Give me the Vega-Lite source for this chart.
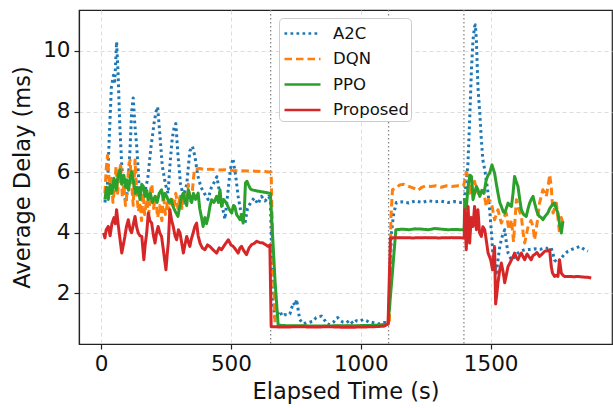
{
  "$schema": "https://vega.github.io/schema/vega-lite/v6.json",
  "width": 533,
  "height": 334,
  "autosize": "none",
  "padding": {"left": 79, "top": 10, "right": 1, "bottom": 64},
  "background": "white",
  "config": {
    "font": "DejaVu Sans",
    "view": {"stroke": "#222", "strokeWidth": 1.2},
    "axis": {
      "domainColor": "#222", "domainWidth": 1.2, "tickColor": "#222", "tickSize": 5, "tickWidth": 1.2,
      "labelFont": "DejaVu Sans", "labelFontSize": 21.5, "labelColor": "#111", "labelPadding": 4,
      "titleFont": "DejaVu Sans", "titleFontSize": 22.5, "titleFontWeight": "normal", "titleColor": "#111",
      "gridColor": "#d9d9d9", "gridDash": [4, 3], "gridWidth": 0.9
    },
    "legend": {
      "orient": "none", "legendX": 200, "legendY": 8, "fillColor": "white", "strokeColor": "#cccccc",
      "cornerRadius": 4, "padding": 2, "labelFont": "DejaVu Sans", "labelFontSize": 16.5, "labelColor": "#111",
      "symbolType": "M-1.5,0L1.5,0", "symbolSize": 576, "symbolStrokeWidth": 2.7, "symbolOffset": 8, "rowPadding": 3.5, "labelOffset": 17, "title": null
    }
  },
  "datasets": {
    "phases": [{"t": 653}, {"t": 1107}, {"t": 1397}],
    "series": [
      {"method":"A2C","time":15,"delay":5.0},{"method":"A2C","time":25,"delay":5.6},{"method":"A2C","time":32,"delay":7.2},{"method":"A2C","time":40,"delay":8.8},{"method":"A2C","time":48,"delay":9.2},{"method":"A2C","time":53,"delay":9.0},{"method":"A2C","time":60,"delay":10.3},{"method":"A2C","time":66,"delay":9.2},{"method":"A2C","time":72,"delay":7.6},{"method":"A2C","time":80,"delay":6.2},{"method":"A2C","time":88,"delay":5.3},{"method":"A2C","time":96,"delay":5.0},{"method":"A2C","time":104,"delay":5.6},{"method":"A2C","time":112,"delay":6.8},{"method":"A2C","time":118,"delay":8.0},{"method":"A2C","time":124,"delay":8.45},{"method":"A2C","time":130,"delay":7.6},{"method":"A2C","time":138,"delay":6.8},{"method":"A2C","time":146,"delay":5.6},{"method":"A2C","time":156,"delay":5.1},{"method":"A2C","time":168,"delay":5.3},{"method":"A2C","time":180,"delay":5.8},{"method":"A2C","time":192,"delay":6.8},{"method":"A2C","time":204,"delay":7.6},{"method":"A2C","time":212,"delay":8.0},{"method":"A2C","time":218,"delay":8.15},{"method":"A2C","time":226,"delay":7.3},{"method":"A2C","time":236,"delay":6.2},{"method":"A2C","time":248,"delay":5.6},{"method":"A2C","time":258,"delay":5.3},{"method":"A2C","time":266,"delay":6.3},{"method":"A2C","time":274,"delay":7.1},{"method":"A2C","time":282,"delay":7.5},{"method":"A2C","time":288,"delay":7.6},{"method":"A2C","time":296,"delay":6.6},{"method":"A2C","time":306,"delay":5.6},{"method":"A2C","time":318,"delay":5.2},{"method":"A2C","time":330,"delay":5.6},{"method":"A2C","time":342,"delay":6.7},{"method":"A2C","time":352,"delay":6.85},{"method":"A2C","time":362,"delay":6.5},{"method":"A2C","time":372,"delay":5.9},{"method":"A2C","time":385,"delay":5.5},{"method":"A2C","time":398,"delay":5.3},{"method":"A2C","time":412,"delay":5.1},{"method":"A2C","time":425,"delay":5.5},{"method":"A2C","time":438,"delay":5.7},{"method":"A2C","time":446,"delay":5.85},{"method":"A2C","time":455,"delay":5.4},{"method":"A2C","time":466,"delay":4.9},{"method":"A2C","time":477,"delay":4.45},{"method":"A2C","time":488,"delay":5.3},{"method":"A2C","time":498,"delay":6.1},{"method":"A2C","time":508,"delay":6.45},{"method":"A2C","time":518,"delay":5.9},{"method":"A2C","time":528,"delay":5.2},{"method":"A2C","time":540,"delay":4.6},{"method":"A2C","time":554,"delay":4.3},{"method":"A2C","time":564,"delay":4.8},{"method":"A2C","time":576,"delay":5.0},{"method":"A2C","time":590,"delay":5.15},{"method":"A2C","time":604,"delay":4.95},{"method":"A2C","time":618,"delay":5.2},{"method":"A2C","time":632,"delay":5.05},{"method":"A2C","time":645,"delay":5.2},{"method":"A2C","time":652,"delay":5.1},{"method":"A2C","time":660,"delay":2.0},{"method":"A2C","time":669,"delay":1.2},{"method":"A2C","time":678,"delay":1.3},{"method":"A2C","time":688,"delay":1.42},{"method":"A2C","time":698,"delay":1.25},{"method":"A2C","time":708,"delay":1.3},{"method":"A2C","time":718,"delay":1.28},{"method":"A2C","time":727,"delay":1.32},{"method":"A2C","time":740,"delay":1.69},{"method":"A2C","time":748,"delay":1.6},{"method":"A2C","time":753,"delay":1.8},{"method":"A2C","time":760,"delay":1.4},{"method":"A2C","time":765,"delay":1.14},{"method":"A2C","time":777,"delay":1.0},{"method":"A2C","time":790,"delay":1.02},{"method":"A2C","time":803,"delay":1.05},{"method":"A2C","time":816,"delay":1.08},{"method":"A2C","time":828,"delay":1.2},{"method":"A2C","time":835,"delay":1.23},{"method":"A2C","time":849,"delay":1.25},{"method":"A2C","time":862,"delay":1.1},{"method":"A2C","time":870,"delay":1.0},{"method":"A2C","time":881,"delay":0.97},{"method":"A2C","time":895,"delay":1.05},{"method":"A2C","time":905,"delay":1.18},{"method":"A2C","time":911,"delay":1.2},{"method":"A2C","time":922,"delay":1.1},{"method":"A2C","time":932,"delay":1.05},{"method":"A2C","time":945,"delay":1.03},{"method":"A2C","time":958,"delay":1.12},{"method":"A2C","time":970,"delay":1.0},{"method":"A2C","time":983,"delay":1.1},{"method":"A2C","time":996,"delay":1.08},{"method":"A2C","time":1009,"delay":1.14},{"method":"A2C","time":1022,"delay":1.1},{"method":"A2C","time":1030,"delay":1.05},{"method":"A2C","time":1041,"delay":1.05},{"method":"A2C","time":1055,"delay":1.02},{"method":"A2C","time":1067,"delay":0.99},{"method":"A2C","time":1080,"delay":1.02},{"method":"A2C","time":1091,"delay":1.04},{"method":"A2C","time":1099,"delay":1.03},{"method":"A2C","time":1106,"delay":0.98},{"method":"A2C","time":1112,"delay":2.5},{"method":"A2C","time":1118,"delay":4.0},{"method":"A2C","time":1126,"delay":4.6},{"method":"A2C","time":1137,"delay":5.0},{"method":"A2C","time":1160,"delay":5.02},{"method":"A2C","time":1185,"delay":4.98},{"method":"A2C","time":1210,"delay":5.05},{"method":"A2C","time":1235,"delay":5.0},{"method":"A2C","time":1260,"delay":5.06},{"method":"A2C","time":1285,"delay":5.02},{"method":"A2C","time":1310,"delay":5.04},{"method":"A2C","time":1335,"delay":5.0},{"method":"A2C","time":1360,"delay":5.03},{"method":"A2C","time":1385,"delay":5.0},{"method":"A2C","time":1398,"delay":5.02},{"method":"A2C","time":1405,"delay":5.6},{"method":"A2C","time":1412,"delay":6.2},{"method":"A2C","time":1419,"delay":7.7},{"method":"A2C","time":1426,"delay":9.4},{"method":"A2C","time":1432,"delay":10.36},{"method":"A2C","time":1438,"delay":10.8},{"method":"A2C","time":1441,"delay":10.86},{"method":"A2C","time":1445,"delay":10.36},{"method":"A2C","time":1451,"delay":8.8},{"method":"A2C","time":1458,"delay":7.95},{"method":"A2C","time":1464,"delay":7.07},{"method":"A2C","time":1470,"delay":6.4},{"method":"A2C","time":1477,"delay":6.08},{"method":"A2C","time":1483,"delay":5.75},{"method":"A2C","time":1490,"delay":5.3},{"method":"A2C","time":1496,"delay":4.76},{"method":"A2C","time":1503,"delay":4.0},{"method":"A2C","time":1509,"delay":3.22},{"method":"A2C","time":1516,"delay":2.9},{"method":"A2C","time":1522,"delay":2.67},{"method":"A2C","time":1528,"delay":3.1},{"method":"A2C","time":1535,"delay":3.55},{"method":"A2C","time":1545,"delay":3.9},{"method":"A2C","time":1554,"delay":4.1},{"method":"A2C","time":1560,"delay":3.7},{"method":"A2C","time":1567,"delay":3.33},{"method":"A2C","time":1580,"delay":3.1},{"method":"A2C","time":1592,"delay":3.2},{"method":"A2C","time":1605,"delay":3.33},{"method":"A2C","time":1618,"delay":3.4},{"method":"A2C","time":1631,"delay":3.44},{"method":"A2C","time":1650,"delay":3.45},{"method":"A2C","time":1669,"delay":3.47},{"method":"A2C","time":1690,"delay":3.45},{"method":"A2C","time":1708,"delay":3.5},{"method":"A2C","time":1720,"delay":3.48},{"method":"A2C","time":1733,"delay":3.5},{"method":"A2C","time":1740,"delay":3.3},{"method":"A2C","time":1746,"delay":3.1},{"method":"A2C","time":1759,"delay":3.0},{"method":"A2C","time":1772,"delay":3.17},{"method":"A2C","time":1785,"delay":3.3},{"method":"A2C","time":1797,"delay":3.39},{"method":"A2C","time":1812,"delay":3.45},{"method":"A2C","time":1830,"delay":3.5},{"method":"A2C","time":1843,"delay":3.55},{"method":"A2C","time":1855,"delay":3.48},{"method":"A2C","time":1874,"delay":3.39},
      {"method":"DQN","time":15,"delay":5.3},{"method":"DQN","time":20,"delay":6.1},{"method":"DQN","time":25,"delay":6.55},{"method":"DQN","time":30,"delay":5.9},{"method":"DQN","time":35,"delay":5.2},{"method":"DQN","time":40,"delay":5.8},{"method":"DQN","time":46,"delay":5.0},{"method":"DQN","time":52,"delay":5.5},{"method":"DQN","time":58,"delay":6.2},{"method":"DQN","time":64,"delay":5.3},{"method":"DQN","time":70,"delay":5.9},{"method":"DQN","time":76,"delay":6.3},{"method":"DQN","time":82,"delay":5.2},{"method":"DQN","time":88,"delay":5.6},{"method":"DQN","time":94,"delay":4.9},{"method":"DQN","time":100,"delay":5.3},{"method":"DQN","time":106,"delay":6.1},{"method":"DQN","time":112,"delay":6.4},{"method":"DQN","time":118,"delay":5.6},{"method":"DQN","time":124,"delay":4.9},{"method":"DQN","time":131,"delay":6.4},{"method":"DQN","time":138,"delay":5.2},{"method":"DQN","time":144,"delay":4.7},{"method":"DQN","time":150,"delay":5.0},{"method":"DQN","time":156,"delay":4.4},{"method":"DQN","time":162,"delay":5.3},{"method":"DQN","time":168,"delay":4.6},{"method":"DQN","time":176,"delay":5.1},{"method":"DQN","time":184,"delay":4.6},{"method":"DQN","time":190,"delay":5.4},{"method":"DQN","time":196,"delay":5.6},{"method":"DQN","time":202,"delay":4.8},{"method":"DQN","time":210,"delay":5.2},{"method":"DQN","time":218,"delay":4.5},{"method":"DQN","time":226,"delay":4.9},{"method":"DQN","time":234,"delay":4.4},{"method":"DQN","time":240,"delay":5.3},{"method":"DQN","time":248,"delay":4.6},{"method":"DQN","time":256,"delay":5.0},{"method":"DQN","time":264,"delay":4.7},{"method":"DQN","time":272,"delay":5.2},{"method":"DQN","time":280,"delay":4.8},{"method":"DQN","time":288,"delay":5.3},{"method":"DQN","time":296,"delay":4.8},{"method":"DQN","time":304,"delay":5.2},{"method":"DQN","time":312,"delay":4.8},{"method":"DQN","time":320,"delay":5.3},{"method":"DQN","time":328,"delay":5.0},{"method":"DQN","time":336,"delay":5.6},{"method":"DQN","time":344,"delay":5.0},{"method":"DQN","time":352,"delay":5.4},{"method":"DQN","time":356,"delay":5.8},{"method":"DQN","time":360,"delay":6.1},{"method":"DQN","time":380,"delay":6.12},{"method":"DQN","time":400,"delay":6.08},{"method":"DQN","time":420,"delay":6.1},{"method":"DQN","time":450,"delay":6.07},{"method":"DQN","time":480,"delay":6.08},{"method":"DQN","time":510,"delay":6.05},{"method":"DQN","time":540,"delay":6.05},{"method":"DQN","time":570,"delay":6.04},{"method":"DQN","time":600,"delay":6.03},{"method":"DQN","time":630,"delay":6.02},{"method":"DQN","time":655,"delay":6.0},{"method":"DQN","time":662,"delay":3.0},{"method":"DQN","time":670,"delay":1.0},{"method":"DQN","time":680,"delay":0.92},{"method":"DQN","time":720,"delay":0.91},{"method":"DQN","time":780,"delay":0.92},{"method":"DQN","time":840,"delay":0.91},{"method":"DQN","time":900,"delay":0.92},{"method":"DQN","time":960,"delay":0.92},{"method":"DQN","time":1020,"delay":0.93},{"method":"DQN","time":1070,"delay":0.95},{"method":"DQN","time":1100,"delay":0.98},{"method":"DQN","time":1110,"delay":1.0},{"method":"DQN","time":1116,"delay":4.5},{"method":"DQN","time":1122,"delay":5.42},{"method":"DQN","time":1135,"delay":5.47},{"method":"DQN","time":1150,"delay":5.58},{"method":"DQN","time":1165,"delay":5.6},{"method":"DQN","time":1180,"delay":5.55},{"method":"DQN","time":1195,"delay":5.5},{"method":"DQN","time":1210,"delay":5.45},{"method":"DQN","time":1220,"delay":5.4},{"method":"DQN","time":1235,"delay":5.5},{"method":"DQN","time":1250,"delay":5.55},{"method":"DQN","time":1270,"delay":5.53},{"method":"DQN","time":1290,"delay":5.55},{"method":"DQN","time":1310,"delay":5.5},{"method":"DQN","time":1330,"delay":5.55},{"method":"DQN","time":1350,"delay":5.53},{"method":"DQN","time":1375,"delay":5.55},{"method":"DQN","time":1395,"delay":5.55},{"method":"DQN","time":1400,"delay":5.7},{"method":"DQN","time":1406,"delay":6.0},{"method":"DQN","time":1413,"delay":5.86},{"method":"DQN","time":1419,"delay":5.3},{"method":"DQN","time":1426,"delay":5.6},{"method":"DQN","time":1432,"delay":5.4},{"method":"DQN","time":1438,"delay":5.7},{"method":"DQN","time":1445,"delay":5.42},{"method":"DQN","time":1452,"delay":5.3},{"method":"DQN","time":1464,"delay":5.2},{"method":"DQN","time":1472,"delay":5.4},{"method":"DQN","time":1483,"delay":4.87},{"method":"DQN","time":1492,"delay":5.1},{"method":"DQN","time":1503,"delay":4.98},{"method":"DQN","time":1515,"delay":4.43},{"method":"DQN","time":1528,"delay":4.76},{"method":"DQN","time":1541,"delay":4.32},{"method":"DQN","time":1550,"delay":4.5},{"method":"DQN","time":1560,"delay":4.65},{"method":"DQN","time":1570,"delay":4.1},{"method":"DQN","time":1580,"delay":4.43},{"method":"DQN","time":1588,"delay":3.7},{"method":"DQN","time":1599,"delay":5.09},{"method":"DQN","time":1608,"delay":4.8},{"method":"DQN","time":1618,"delay":4.54},{"method":"DQN","time":1625,"delay":4.0},{"method":"DQN","time":1631,"delay":3.66},{"method":"DQN","time":1644,"delay":4.21},{"method":"DQN","time":1655,"delay":4.4},{"method":"DQN","time":1663,"delay":4.21},{"method":"DQN","time":1669,"delay":3.77},{"method":"DQN","time":1680,"delay":4.4},{"method":"DQN","time":1688,"delay":4.98},{"method":"DQN","time":1701,"delay":5.42},{"method":"DQN","time":1714,"delay":5.2},{"method":"DQN","time":1722,"delay":5.6},{"method":"DQN","time":1727,"delay":5.91},{"method":"DQN","time":1733,"delay":5.53},{"method":"DQN","time":1740,"delay":4.65},{"method":"DQN","time":1753,"delay":4.98},{"method":"DQN","time":1765,"delay":3.99},{"method":"DQN","time":1772,"delay":4.5},{"method":"DQN","time":1778,"delay":4.32},
      {"method":"PPO","time":15,"delay":5.1},{"method":"PPO","time":22,"delay":5.5},{"method":"PPO","time":28,"delay":5.1},{"method":"PPO","time":35,"delay":5.6},{"method":"PPO","time":42,"delay":5.3},{"method":"PPO","time":50,"delay":5.8},{"method":"PPO","time":58,"delay":5.4},{"method":"PPO","time":66,"delay":5.9},{"method":"PPO","time":73,"delay":6.08},{"method":"PPO","time":80,"delay":5.6},{"method":"PPO","time":88,"delay":5.9},{"method":"PPO","time":95,"delay":5.5},{"method":"PPO","time":99,"delay":5.75},{"method":"PPO","time":106,"delay":5.4},{"method":"PPO","time":112,"delay":5.8},{"method":"PPO","time":118,"delay":6.02},{"method":"PPO","time":125,"delay":5.7},{"method":"PPO","time":132,"delay":5.3},{"method":"PPO","time":138,"delay":5.5},{"method":"PPO","time":143,"delay":5.42},{"method":"PPO","time":150,"delay":5.1},{"method":"PPO","time":157,"delay":5.6},{"method":"PPO","time":163,"delay":5.53},{"method":"PPO","time":170,"delay":5.2},{"method":"PPO","time":176,"delay":5.4},{"method":"PPO","time":181,"delay":5.1},{"method":"PPO","time":190,"delay":5.3},{"method":"PPO","time":198,"delay":5.0},{"method":"PPO","time":208,"delay":5.2},{"method":"PPO","time":216,"delay":5.0},{"method":"PPO","time":224,"delay":5.3},{"method":"PPO","time":233,"delay":5.42},{"method":"PPO","time":240,"delay":5.1},{"method":"PPO","time":246,"delay":5.3},{"method":"PPO","time":253,"delay":5.2},{"method":"PPO","time":262,"delay":5.0},{"method":"PPO","time":270,"delay":5.1},{"method":"PPO","time":277,"delay":4.87},{"method":"PPO","time":286,"delay":4.7},{"method":"PPO","time":296,"delay":4.54},{"method":"PPO","time":304,"delay":4.9},{"method":"PPO","time":310,"delay":5.2},{"method":"PPO","time":317,"delay":5.31},{"method":"PPO","time":324,"delay":5.0},{"method":"PPO","time":330,"delay":4.9},{"method":"PPO","time":336,"delay":5.42},{"method":"PPO","time":342,"delay":5.2},{"method":"PPO","time":349,"delay":5.0},{"method":"PPO","time":356,"delay":5.3},{"method":"PPO","time":364,"delay":5.1},{"method":"PPO","time":374,"delay":5.31},{"method":"PPO","time":380,"delay":4.8},{"method":"PPO","time":387,"delay":4.5},{"method":"PPO","time":393,"delay":4.21},{"method":"PPO","time":400,"delay":4.5},{"method":"PPO","time":406,"delay":4.3},{"method":"PPO","time":413,"delay":4.54},{"method":"PPO","time":420,"delay":4.9},{"method":"PPO","time":426,"delay":5.09},{"method":"PPO","time":435,"delay":5.0},{"method":"PPO","time":445,"delay":5.2},{"method":"PPO","time":452,"delay":5.0},{"method":"PPO","time":458,"delay":5.42},{"method":"PPO","time":464,"delay":4.87},{"method":"PPO","time":472,"delay":5.1},{"method":"PPO","time":483,"delay":4.98},{"method":"PPO","time":492,"delay":4.8},{"method":"PPO","time":503,"delay":4.65},{"method":"PPO","time":510,"delay":4.9},{"method":"PPO","time":515,"delay":4.87},{"method":"PPO","time":522,"delay":4.6},{"method":"PPO","time":530,"delay":4.5},{"method":"PPO","time":535,"delay":4.43},{"method":"PPO","time":541,"delay":4.6},{"method":"PPO","time":547,"delay":4.32},{"method":"PPO","time":552,"delay":4.8},{"method":"PPO","time":556,"delay":5.64},{"method":"PPO","time":562,"delay":5.7},{"method":"PPO","time":567,"delay":5.59},{"method":"PPO","time":575,"delay":5.45},{"method":"PPO","time":580,"delay":5.42},{"method":"PPO","time":600,"delay":5.38},{"method":"PPO","time":620,"delay":5.35},{"method":"PPO","time":640,"delay":5.32},{"method":"PPO","time":652,"delay":5.3},{"method":"PPO","time":660,"delay":4.0},{"method":"PPO","time":670,"delay":2.4},{"method":"PPO","time":682,"delay":0.95},{"method":"PPO","time":720,"delay":0.93},{"method":"PPO","time":780,"delay":0.93},{"method":"PPO","time":840,"delay":0.92},{"method":"PPO","time":900,"delay":0.93},{"method":"PPO","time":960,"delay":0.93},{"method":"PPO","time":1020,"delay":0.94},{"method":"PPO","time":1060,"delay":0.95},{"method":"PPO","time":1090,"delay":0.97},{"method":"PPO","time":1105,"delay":0.98},{"method":"PPO","time":1120,"delay":2.5},{"method":"PPO","time":1135,"delay":4.1},{"method":"PPO","time":1160,"delay":4.12},{"method":"PPO","time":1185,"delay":4.1},{"method":"PPO","time":1210,"delay":4.13},{"method":"PPO","time":1235,"delay":4.12},{"method":"PPO","time":1260,"delay":4.1},{"method":"PPO","time":1285,"delay":4.14},{"method":"PPO","time":1310,"delay":4.12},{"method":"PPO","time":1335,"delay":4.1},{"method":"PPO","time":1360,"delay":4.11},{"method":"PPO","time":1385,"delay":4.1},{"method":"PPO","time":1398,"delay":4.1},{"method":"PPO","time":1400,"delay":5.09},{"method":"PPO","time":1406,"delay":4.8},{"method":"PPO","time":1413,"delay":5.53},{"method":"PPO","time":1420,"delay":5.9},{"method":"PPO","time":1426,"delay":5.86},{"method":"PPO","time":1432,"delay":5.09},{"method":"PPO","time":1438,"delay":5.3},{"method":"PPO","time":1445,"delay":5.53},{"method":"PPO","time":1452,"delay":5.4},{"method":"PPO","time":1458,"delay":5.2},{"method":"PPO","time":1466,"delay":5.4},{"method":"PPO","time":1474,"delay":5.3},{"method":"PPO","time":1483,"delay":5.75},{"method":"PPO","time":1490,"delay":5.9},{"method":"PPO","time":1496,"delay":5.97},{"method":"PPO","time":1505,"delay":6.24},{"method":"PPO","time":1510,"delay":6.1},{"method":"PPO","time":1515,"delay":5.97},{"method":"PPO","time":1522,"delay":5.6},{"method":"PPO","time":1528,"delay":5.31},{"method":"PPO","time":1535,"delay":5.0},{"method":"PPO","time":1541,"delay":4.87},{"method":"PPO","time":1548,"delay":4.7},{"method":"PPO","time":1554,"delay":4.65},{"method":"PPO","time":1560,"delay":4.8},{"method":"PPO","time":1567,"delay":4.98},{"method":"PPO","time":1574,"delay":4.9},{"method":"PPO","time":1580,"delay":4.87},{"method":"PPO","time":1586,"delay":5.3},{"method":"PPO","time":1592,"delay":5.86},{"method":"PPO","time":1598,"delay":5.7},{"method":"PPO","time":1605,"delay":5.53},{"method":"PPO","time":1612,"delay":5.1},{"method":"PPO","time":1618,"delay":4.76},{"method":"PPO","time":1627,"delay":4.6},{"method":"PPO","time":1637,"delay":4.54},{"method":"PPO","time":1644,"delay":4.8},{"method":"PPO","time":1650,"delay":4.98},{"method":"PPO","time":1656,"delay":5.1},{"method":"PPO","time":1663,"delay":5.2},{"method":"PPO","time":1670,"delay":4.95},{"method":"PPO","time":1676,"delay":4.76},{"method":"PPO","time":1682,"delay":4.6},{"method":"PPO","time":1688,"delay":4.54},{"method":"PPO","time":1695,"delay":4.5},{"method":"PPO","time":1701,"delay":4.43},{"method":"PPO","time":1710,"delay":4.55},{"method":"PPO","time":1720,"delay":4.65},{"method":"PPO","time":1727,"delay":4.8},{"method":"PPO","time":1733,"delay":4.87},{"method":"PPO","time":1740,"delay":4.95},{"method":"PPO","time":1746,"delay":4.98},{"method":"PPO","time":1752,"delay":4.8},{"method":"PPO","time":1759,"delay":4.65},{"method":"PPO","time":1765,"delay":4.3},{"method":"PPO","time":1772,"delay":3.99},{"method":"PPO","time":1778,"delay":4.38},
      {"method":"Proposed","time":10,"delay":4.0},{"method":"Proposed","time":15,"delay":3.83},{"method":"Proposed","time":20,"delay":4.1},{"method":"Proposed","time":28,"delay":4.21},{"method":"Proposed","time":35,"delay":3.9},{"method":"Proposed","time":42,"delay":4.3},{"method":"Proposed","time":50,"delay":4.5},{"method":"Proposed","time":55,"delay":4.3},{"method":"Proposed","time":60,"delay":4.76},{"method":"Proposed","time":67,"delay":4.21},{"method":"Proposed","time":73,"delay":3.8},{"method":"Proposed","time":80,"delay":3.33},{"method":"Proposed","time":86,"delay":3.6},{"method":"Proposed","time":92,"delay":3.88},{"method":"Proposed","time":98,"delay":4.2},{"method":"Proposed","time":105,"delay":4.43},{"method":"Proposed","time":112,"delay":4.1},{"method":"Proposed","time":118,"delay":4.0},{"method":"Proposed","time":125,"delay":4.3},{"method":"Proposed","time":131,"delay":4.54},{"method":"Proposed","time":137,"delay":4.2},{"method":"Proposed","time":143,"delay":4.0},{"method":"Proposed","time":150,"delay":3.9},{"method":"Proposed","time":157,"delay":3.88},{"method":"Proposed","time":165,"delay":3.11},{"method":"Proposed","time":170,"delay":3.6},{"method":"Proposed","time":176,"delay":4.0},{"method":"Proposed","time":182,"delay":4.65},{"method":"Proposed","time":188,"delay":4.4},{"method":"Proposed","time":195,"delay":4.32},{"method":"Proposed","time":202,"delay":3.9},{"method":"Proposed","time":208,"delay":3.66},{"method":"Proposed","time":214,"delay":4.0},{"method":"Proposed","time":220,"delay":4.21},{"method":"Proposed","time":226,"delay":4.0},{"method":"Proposed","time":233,"delay":3.88},{"method":"Proposed","time":240,"delay":3.44},{"method":"Proposed","time":245,"delay":3.1},{"method":"Proposed","time":250,"delay":2.78},{"method":"Proposed","time":255,"delay":3.3},{"method":"Proposed","time":259,"delay":3.66},{"method":"Proposed","time":265,"delay":4.76},{"method":"Proposed","time":272,"delay":4.4},{"method":"Proposed","time":278,"delay":4.21},{"method":"Proposed","time":285,"delay":3.9},{"method":"Proposed","time":291,"delay":3.77},{"method":"Proposed","time":298,"delay":4.1},{"method":"Proposed","time":304,"delay":4.0},{"method":"Proposed","time":310,"delay":3.7},{"method":"Proposed","time":317,"delay":3.33},{"method":"Proposed","time":323,"delay":3.6},{"method":"Proposed","time":330,"delay":3.88},{"method":"Proposed","time":336,"delay":3.7},{"method":"Proposed","time":342,"delay":3.55},{"method":"Proposed","time":348,"delay":3.8},{"method":"Proposed","time":355,"delay":4.0},{"method":"Proposed","time":361,"delay":4.2},{"method":"Proposed","time":368,"delay":4.32},{"method":"Proposed","time":374,"delay":3.9},{"method":"Proposed","time":381,"delay":3.66},{"method":"Proposed","time":390,"delay":3.5},{"method":"Proposed","time":400,"delay":3.44},{"method":"Proposed","time":410,"delay":3.6},{"method":"Proposed","time":419,"delay":3.55},{"method":"Proposed","time":430,"delay":3.45},{"method":"Proposed","time":445,"delay":3.33},{"method":"Proposed","time":455,"delay":3.5},{"method":"Proposed","time":464,"delay":3.44},{"method":"Proposed","time":476,"delay":3.6},{"method":"Proposed","time":490,"delay":3.77},{"method":"Proposed","time":500,"delay":3.6},{"method":"Proposed","time":509,"delay":3.55},{"method":"Proposed","time":518,"delay":3.45},{"method":"Proposed","time":528,"delay":3.33},{"method":"Proposed","time":535,"delay":3.5},{"method":"Proposed","time":541,"delay":3.55},{"method":"Proposed","time":550,"delay":3.4},{"method":"Proposed","time":560,"delay":3.28},{"method":"Proposed","time":570,"delay":3.5},{"method":"Proposed","time":580,"delay":3.61},{"method":"Proposed","time":590,"delay":3.65},{"method":"Proposed","time":599,"delay":3.72},{"method":"Proposed","time":610,"delay":3.68},{"method":"Proposed","time":624,"delay":3.66},{"method":"Proposed","time":635,"delay":3.6},{"method":"Proposed","time":643,"delay":3.55},{"method":"Proposed","time":650,"delay":3.6},{"method":"Proposed","time":655,"delay":0.9},{"method":"Proposed","time":700,"delay":0.89},{"method":"Proposed","time":760,"delay":0.9},{"method":"Proposed","time":820,"delay":0.89},{"method":"Proposed","time":880,"delay":0.9},{"method":"Proposed","time":940,"delay":0.88},{"method":"Proposed","time":1000,"delay":0.89},{"method":"Proposed","time":1050,"delay":0.9},{"method":"Proposed","time":1090,"delay":0.92},{"method":"Proposed","time":1105,"delay":1.0},{"method":"Proposed","time":1114,"delay":3.83},{"method":"Proposed","time":1150,"delay":3.84},{"method":"Proposed","time":1200,"delay":3.83},{"method":"Proposed","time":1250,"delay":3.84},{"method":"Proposed","time":1300,"delay":3.83},{"method":"Proposed","time":1350,"delay":3.84},{"method":"Proposed","time":1398,"delay":3.83},{"method":"Proposed","time":1400,"delay":4.76},{"method":"Proposed","time":1406,"delay":3.44},{"method":"Proposed","time":1413,"delay":4.87},{"method":"Proposed","time":1419,"delay":3.66},{"method":"Proposed","time":1425,"delay":4.5},{"method":"Proposed","time":1432,"delay":4.21},{"method":"Proposed","time":1438,"delay":4.87},{"method":"Proposed","time":1445,"delay":4.1},{"method":"Proposed","time":1451,"delay":4.76},{"method":"Proposed","time":1457,"delay":4.0},{"method":"Proposed","time":1464,"delay":3.88},{"method":"Proposed","time":1470,"delay":4.2},{"method":"Proposed","time":1477,"delay":4.1},{"method":"Proposed","time":1484,"delay":3.7},{"method":"Proposed","time":1490,"delay":3.33},{"method":"Proposed","time":1500,"delay":3.11},{"method":"Proposed","time":1507,"delay":2.78},{"method":"Proposed","time":1512,"delay":3.3},{"method":"Proposed","time":1515,"delay":3.55},{"method":"Proposed","time":1519,"delay":1.65},{"method":"Proposed","time":1524,"delay":2.0},{"method":"Proposed","time":1528,"delay":2.35},{"method":"Proposed","time":1535,"delay":2.78},{"method":"Proposed","time":1541,"delay":3.0},{"method":"Proposed","time":1548,"delay":2.7},{"method":"Proposed","time":1554,"delay":2.35},{"method":"Proposed","time":1560,"delay":2.6},{"method":"Proposed","time":1567,"delay":2.89},{"method":"Proposed","time":1574,"delay":3.0},{"method":"Proposed","time":1580,"delay":3.11},{"method":"Proposed","time":1586,"delay":3.2},{"method":"Proposed","time":1592,"delay":3.33},{"method":"Proposed","time":1598,"delay":3.2},{"method":"Proposed","time":1605,"delay":3.11},{"method":"Proposed","time":1612,"delay":3.25},{"method":"Proposed","time":1618,"delay":3.33},{"method":"Proposed","time":1625,"delay":3.2},{"method":"Proposed","time":1631,"delay":3.11},{"method":"Proposed","time":1640,"delay":3.3},{"method":"Proposed","time":1648,"delay":3.2},{"method":"Proposed","time":1656,"delay":3.11},{"method":"Proposed","time":1663,"delay":3.25},{"method":"Proposed","time":1669,"delay":3.28},{"method":"Proposed","time":1678,"delay":3.35},{"method":"Proposed","time":1688,"delay":3.22},{"method":"Proposed","time":1698,"delay":3.3},{"method":"Proposed","time":1708,"delay":3.39},{"method":"Proposed","time":1718,"delay":3.4},{"method":"Proposed","time":1727,"delay":3.44},{"method":"Proposed","time":1733,"delay":2.9},{"method":"Proposed","time":1738,"delay":2.67},{"method":"Proposed","time":1746,"delay":2.56},{"method":"Proposed","time":1752,"delay":2.6},{"method":"Proposed","time":1759,"delay":2.56},{"method":"Proposed","time":1765,"delay":3.11},{"method":"Proposed","time":1772,"delay":2.67},{"method":"Proposed","time":1778,"delay":2.6},{"method":"Proposed","time":1785,"delay":2.56},{"method":"Proposed","time":1804,"delay":2.56},{"method":"Proposed","time":1820,"delay":2.55},{"method":"Proposed","time":1836,"delay":2.56},{"method":"Proposed","time":1855,"delay":2.54},{"method":"Proposed","time":1874,"delay":2.53},{"method":"Proposed","time":1887,"delay":2.51}
    ]
  },
  "layer": [
    {
      "data": {"name": "phases"},
      "mark": {"type": "rule", "color": "#888888", "strokeWidth": 1.3, "strokeDash": [1.5, 2.5]},
      "encoding": {
        "x": {"field": "t", "type": "quantitative", "scale": {"domain": [-84.7, 1967], "nice": false, "zero": false}}
      }
    },
    {
      "data": {"name": "series"},
      "mark": {"type": "line", "strokeWidth": 3, "strokeCap": "butt", "strokeJoin": "round"},
      "encoding": {
        "x": {
          "field": "time", "type": "quantitative",
          "scale": {"domain": [-84.7, 1967], "nice": false, "zero": false},
          "axis": {"title": "Elapsed Time (s)", "values": [0, 500, 1000, 1500], "format": "d", "grid": true, "titlePadding": 6}
        },
        "y": {
          "field": "delay", "type": "quantitative",
          "scale": {"domain": [0.33, 11.35], "nice": false, "zero": false},
          "axis": {"title": "Average Delay (ms)", "values": [2, 4, 6, 8, 10], "format": "d", "grid": true, "titlePadding": 8}
        },
        "color": {
          "field": "method", "type": "nominal",
          "scale": {"domain": ["A2C", "DQN", "PPO", "Proposed"], "range": ["#1f77b4", "#ff7f0e", "#2ca02c", "#d62728"]},
          "legend": {"title": null}
        },
        "strokeDash": {
          "field": "method", "type": "nominal",
          "scale": {"domain": ["A2C", "DQN", "PPO", "Proposed"], "range": [[2.7, 3.3], [7.5, 4], [1, 0], [1, 0]]},
          "legend": {"title": null}
        }
      }
    }
  ]
}
